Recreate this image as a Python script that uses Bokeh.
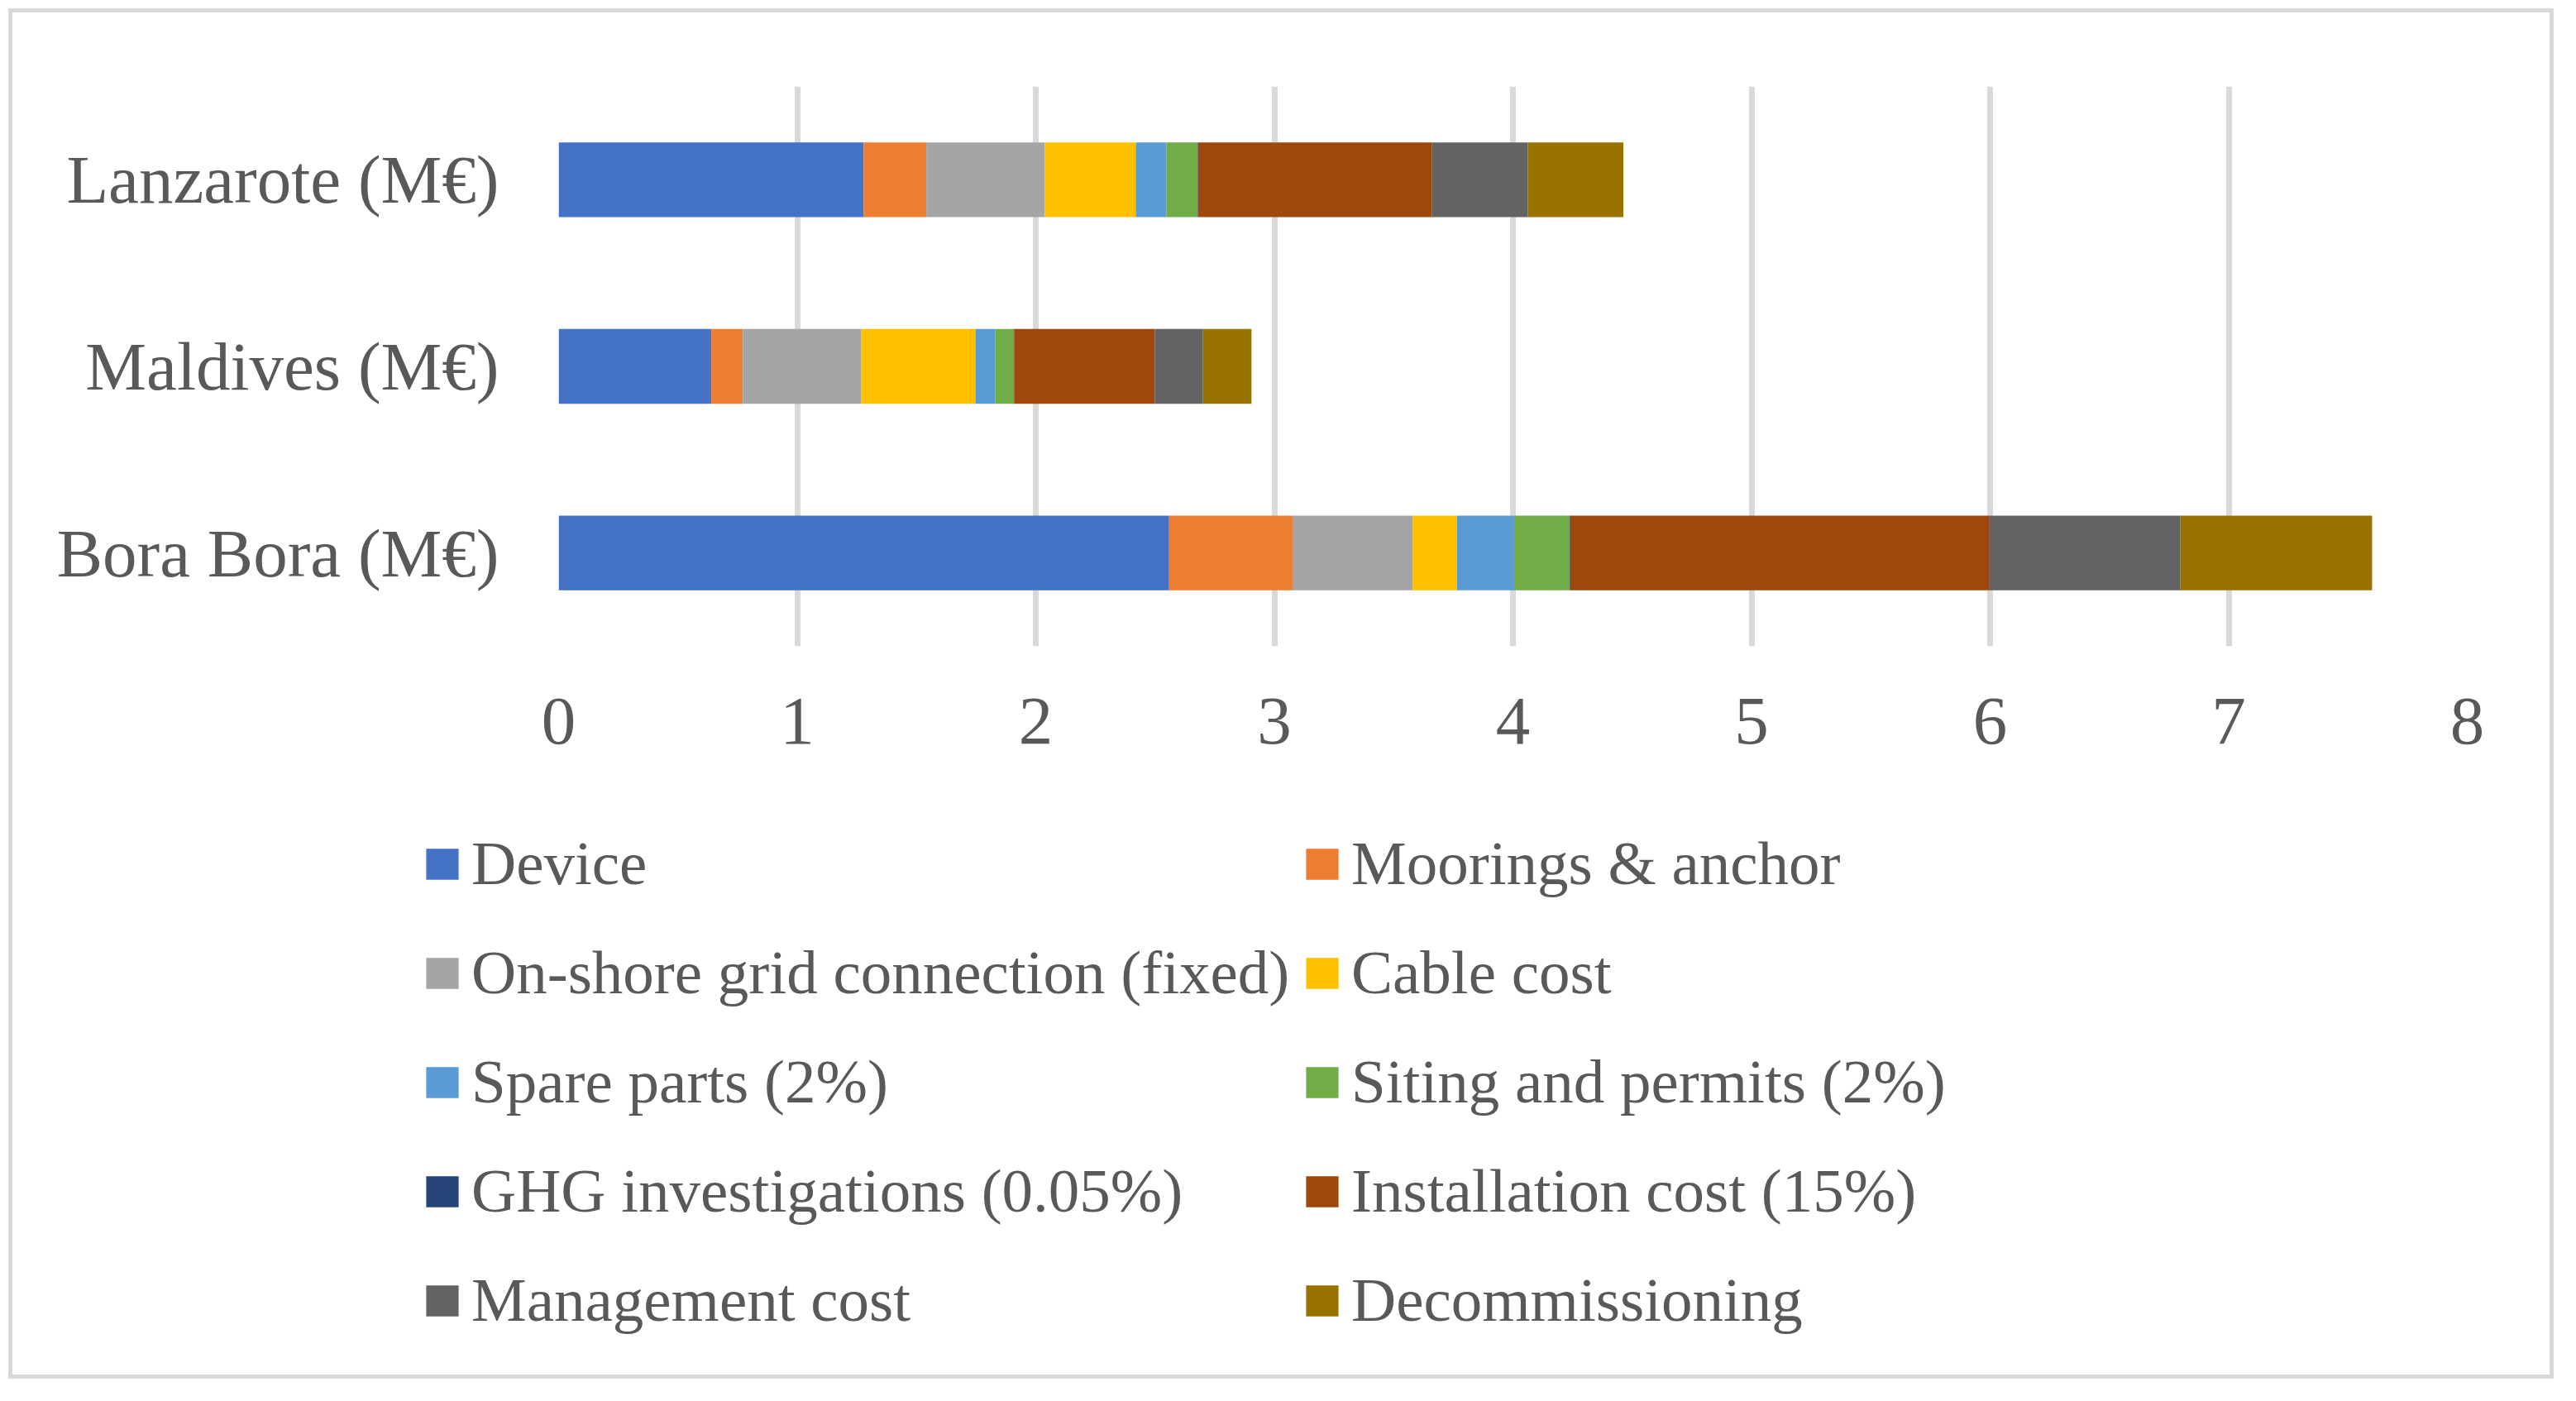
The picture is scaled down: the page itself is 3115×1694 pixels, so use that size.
from bokeh.plotting import figure
from bokeh.layouts import column
from bokeh.models import ColumnDataSource, FactorRange, FixedTicker, Legend, LegendItem
from bokeh.embed import file_html
from bokeh.resources import INLINE

# ---- data (order: Bora Bora, Maldives, Lanzarote) ----
sites = ["Bora Bora (M€)", "Maldives (M€)", "Lanzarote (M€)"]
device = [2.559, 0.640, 1.279]
moorings = [0.517, 0.132, 0.262]
grid_conn = [0.504, 0.497, 0.497]
cable = [0.186, 0.478, 0.381]
spare = [0.239, 0.083, 0.129]
siting = [0.232, 0.077, 0.130]
ghg = [0.003, 0.002, 0.002]
install = [1.755, 0.590, 0.981]
management = [0.803, 0.202, 0.401]
decom = [0.803, 0.203, 0.401]

series_labels = ["Device", "Moorings & anchor", "On-shore grid connection (fixed)",
                 "Cable cost", "Spare parts (2%)", "Siting and permits (2%)",
                 "GHG investigations (0.05%)", "Installation cost (15%)",
                 "Management cost", "Decommissioning"]
series_values = [device, moorings, grid_conn, cable, spare, siting, ghg,
                 install, management, decom]
colors = ["#4472C4", "#ED7D31", "#A5A5A5", "#FFC000", "#5B9BD5", "#70AD47",
          "#264478", "#9E480E", "#636363", "#997300"]
x_ticks = [0, 1, 2, 3, 4, 5, 6, 7, 8]

keys = ["s%d" % i for i in range(len(series_labels))]
data = {"site": sites}
for k, v in zip(keys, series_values):
    data[k] = v
source = ColumnDataSource(data)

TEXT = "#595959"
FONT = "Liberation Serif"
BORDER = "5px solid #D9D9D9"
W = 3078
H1, H2 = 960, 697

# ---- main chart ----
p = figure(width=W, height=H1, y_range=FactorRange(factors=sites), x_range=(0, 8),
           output_backend="svg", toolbar_location=None,
           min_border_left=660, min_border_right=110,
           min_border_top=89, min_border_bottom=194)
p.styles = {"border-left": BORDER, "border-right": BORDER, "border-top": BORDER}

p.hbar_stack(keys, y="site", height=0.40, color=colors, source=source, line_color=None)

p.outline_line_color = None
p.ygrid.grid_line_color = None
p.xgrid.grid_line_color = "#D9D9D9"
p.xgrid.grid_line_width = 7
p.xaxis.ticker = FixedTicker(ticks=x_ticks)

for ax in (p.xaxis, p.yaxis):
    ax.axis_line_color = None
    ax.major_tick_line_color = None
    ax.minor_tick_line_color = None
    ax.major_label_text_font = FONT
    ax.major_label_text_font_size = "83px"
    ax.major_label_text_color = TEXT
p.xaxis.major_label_standoff = 57
p.yaxis.major_label_standoff = 66

# ---- legend panel (hidden copies of the series carry the legend entries) ----
q = figure(width=W, height=H2, y_range=FactorRange(factors=sites), x_range=(0, 8),
           x_axis_type=None, y_axis_type=None,
           output_backend="svg", toolbar_location=None,
           min_border_left=0, min_border_right=0, min_border_top=0, min_border_bottom=0)
q.styles = {"border-left": BORDER, "border-right": BORDER, "border-bottom": BORDER}
q.outline_line_color = None
q.grid.grid_line_color = None
lrs = q.hbar_stack(keys, y="site", height=0.40, color=colors, source=source, line_color=None)
for r in lrs:
    r.visible = False

for fig in (p, q):
    if "frame_align" in fig.properties():
        fig.frame_align = False

def make_legend(idx, loc):
    items = [LegendItem(label=series_labels[i], renderers=[lrs[i]]) for i in idx]
    return Legend(items=items, location=loc, orientation="vertical",
                  label_text_font=FONT, label_text_font_size="75px",
                  label_text_color=TEXT, glyph_width=49, glyph_height=47,
                  label_standoff=11, label_height=94, spacing=38,
                  padding=0, margin=0, inactive_fill_alpha=0,
                  border_line_color=None, background_fill_alpha=0)

q.add_layout(make_legend([0, 2, 4, 6, 8], (495, 48)), "center")
q.add_layout(make_legend([1, 3, 5, 7, 9], (1559, 48)), "center")

layout = column(p, q, spacing=0, styles={"margin-left": "10px", "margin-top": "10px"})

open("out.html", "w").write(file_html(layout, INLINE))
